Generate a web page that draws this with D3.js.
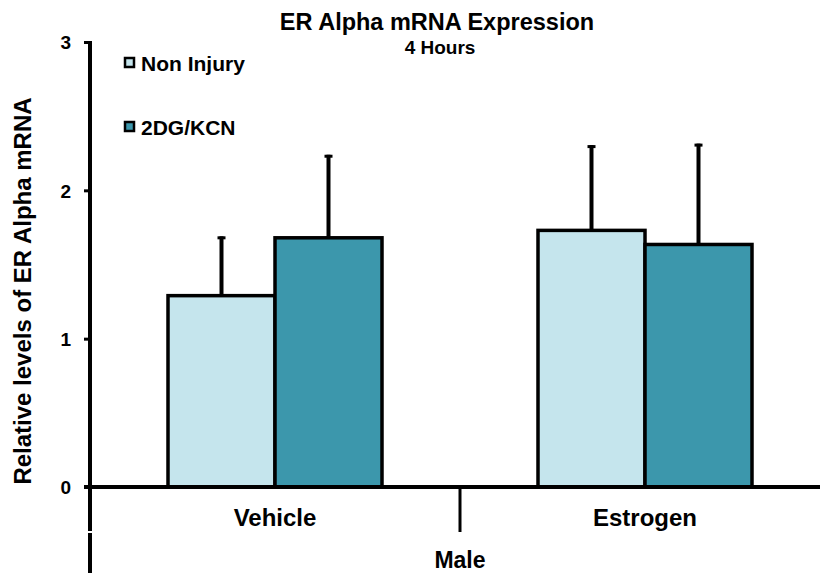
<!DOCTYPE html>
<html>
<head>
<meta charset="utf-8">
<script src="https://cdn.jsdelivr.net/npm/d3@7"></script>
<style>
  body { margin: 0; background: #fff; }
  text { font-family: Arial, "Liberation Sans", sans-serif; font-weight: bold; fill: #000; }
</style>
</head>
<body>
<svg id="chart"></svg>
<script>
var groups = ["Vehicle", "Estrogen"]
var series = ["Non Injury", "2DG/KCN"]
var colors = ["#c5e5ed", "#3c97ac"]
var means = [[1.29, 1.68], [1.73, 1.635]]   // [group][series]
var errs = [[0.40, 0.56], [0.575, 0.68]]
var yTicks = [0, 1, 2, 3]

var width = 820, height = 573
var svg = d3.select("#chart").attr("width", width).attr("height", height)

var x0 = d3.scaleBand().domain(groups).range([90, 830])
var x1 = d3.scaleBand().domain(series).range([78, x0.bandwidth() - 78])
var y = d3.scaleLinear().domain([0, 3]).range([487, 42])

// 标题
svg.append("text").attr("x", 437).attr("y", 30).attr("text-anchor", "middle")
    .style("font-size", "23.5px").text("ER Alpha mRNA Expression")
svg.append("text").attr("x", 440).attr("y", 54).attr("text-anchor", "middle")
    .style("font-size", "19px").text("4 Hours")

// 柱子
var g = svg.selectAll("g.grp")
    .data(groups)
    .enter().append("g")
    .attr("class", "grp")
    .attr("transform", function (d) { return "translate(" + x0(d) + ",0)" })

g.each(function (gname, gi) {
    var sel = d3.select(this)
    series.forEach(function (s, si) {
        var cx = x1(s) + x1.bandwidth() / 2
        // error bar
        sel.append("line")
            .attr("x1", cx).attr("x2", cx)
            .attr("y1", y(means[gi][si])).attr("y2", y(means[gi][si] + errs[gi][si]))
            .attr("stroke", "#000").attr("stroke-width", 4)
        sel.append("line")
            .attr("x1", cx - 4).attr("x2", cx + 4)
            .attr("y1", y(means[gi][si] + errs[gi][si]) + 1.5)
            .attr("y2", y(means[gi][si] + errs[gi][si]) + 1.5)
            .attr("stroke", "#000").attr("stroke-width", 3)
        sel.append("rect")
            .attr("x", x1(s)).attr("width", x1.bandwidth())
            .attr("y", y(means[gi][si])).attr("height", y(0) - y(means[gi][si]))
            .attr("fill", colors[si]).attr("stroke", "#000").attr("stroke-width", 3.5)
    })
})

// y轴
var yAxis = svg.append("g").attr("transform", "translate(90,0)")
    .call(d3.axisLeft(y).tickValues(yTicks).tickFormat(d3.format("d")).tickSize(6).tickPadding(13))
yAxis.select(".domain").remove()
yAxis.selectAll(".tick line").attr("stroke", "#000").attr("stroke-width", 3)
yAxis.selectAll(".tick text").style("font-size", "19px").attr("dy", "0.36em")
svg.append("line").attr("x1", 90).attr("x2", 90).attr("y1", 41).attr("y2", 531)
    .attr("stroke", "#000").attr("stroke-width", 4)
svg.append("line").attr("x1", 90).attr("x2", 90).attr("y1", 533).attr("y2", 573)
    .attr("stroke", "#000").attr("stroke-width", 4)

// x轴
svg.append("line").attr("x1", 84).attr("x2", 820).attr("y1", y(0)).attr("y2", y(0))
    .attr("stroke", "#000").attr("stroke-width", 4)
svg.append("line").attr("x1", x0("Estrogen")).attr("x2", x0("Estrogen"))
    .attr("y1", y(0)).attr("y2", 532)
    .attr("stroke", "#000").attr("stroke-width", 3)
svg.selectAll("text.cat").data(groups).enter().append("text")
    .attr("class", "cat")
    .attr("x", function (d) { return x0(d) + x0.bandwidth() / 2 })
    .attr("y", 526).attr("text-anchor", "middle").style("font-size", "24px")
    .text(function (d) { return d })
svg.append("text").attr("x", 460).attr("y", 568).attr("text-anchor", "middle")
    .style("font-size", "23px").text("Male")

// y轴标题
svg.append("text").attr("transform", "translate(31,291) rotate(-90)")
    .attr("text-anchor", "middle").style("font-size", "24px")
    .text("Relative levels of ER Alpha mRNA")

// 图例
var leg = svg.selectAll("g.leg").data(series).enter().append("g")
    .attr("class", "leg")
    .attr("transform", function (d, i) { return "translate(125," + (58 + i * 64) + ")" })
leg.append("rect").attr("width", 9).attr("height", 9)
    .attr("fill", function (d, i) { return colors[i] })
    .attr("stroke", "#000").attr("stroke-width", 2.5)
leg.append("text").attr("x", 16).attr("y", 13).style("font-size", "21px")
    .text(function (d) { return d })
</script>
</body>
</html>
